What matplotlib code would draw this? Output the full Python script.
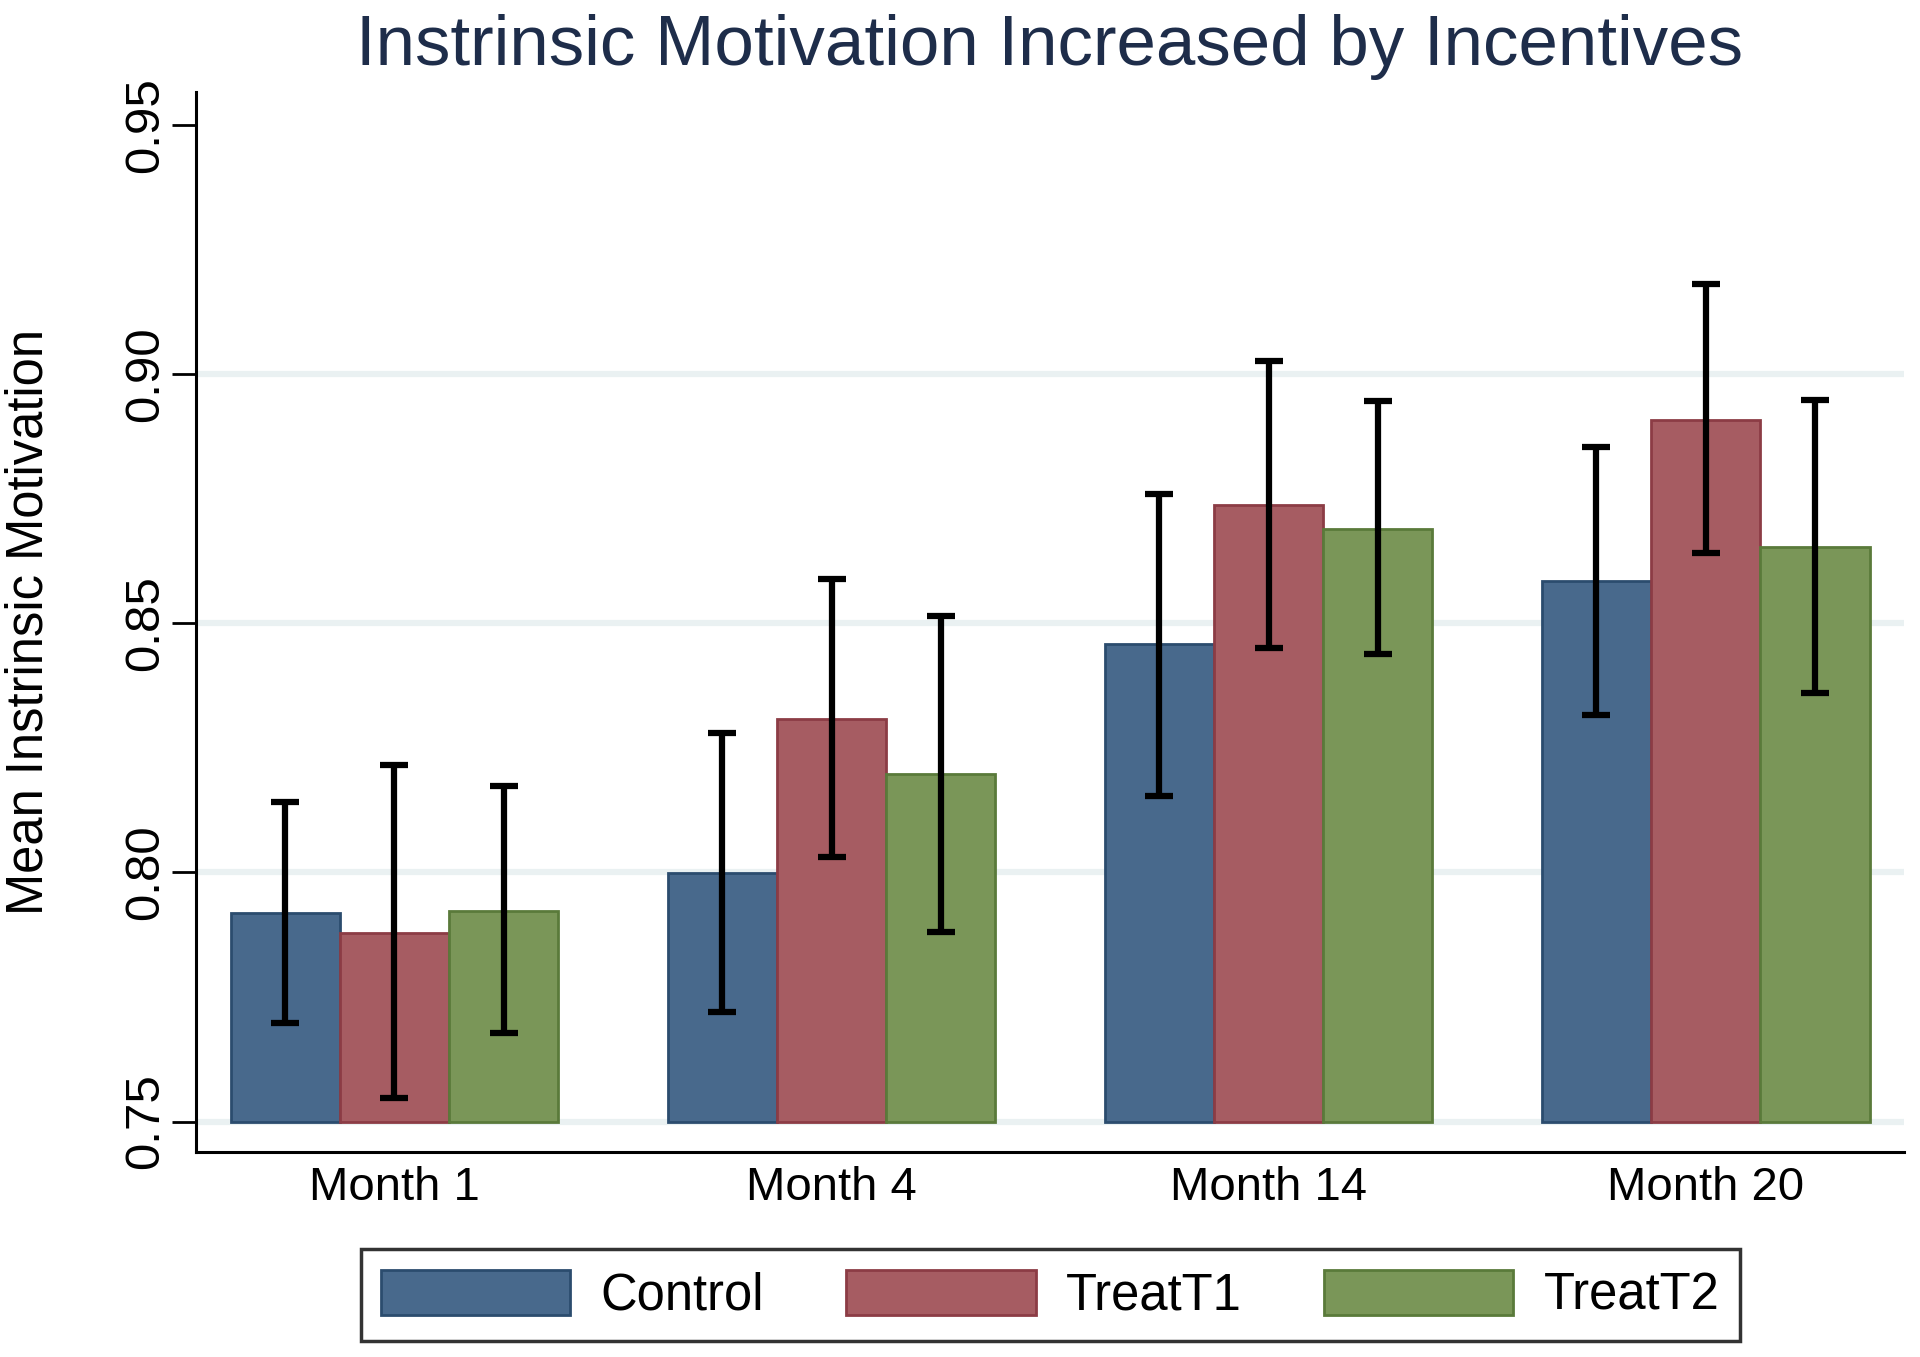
import matplotlib.pyplot as plt
import numpy as np

plt.rcParams['font.family'] = ['Liberation Sans', 'DejaVu Sans']

months = ["Month 1", "Month 4", "Month 14", "Month 20"]
groups = ["Control", "TreatT1", "TreatT2"]

means_control = [0.7918, 0.7999, 0.8458, 0.8584]
means_t1 = [0.7878, 0.8308, 0.8738, 0.8908]
means_t2 = [0.7923, 0.8198, 0.8689, 0.8652]

upper_control = [0.8141, 0.8279, 0.8760, 0.8854]
lower_control = [0.7697, 0.7719, 0.8154, 0.8316]
upper_t1 = [0.8215, 0.8588, 0.9026, 0.9181]
lower_t1 = [0.7547, 0.8031, 0.8451, 0.8640]
upper_t2 = [0.8173, 0.8515, 0.8945, 0.8947]
lower_t2 = [0.7677, 0.7881, 0.8439, 0.8360]

means = [means_control, means_t1, means_t2]
uppers = [upper_control, upper_t1, upper_t2]
lowers = [lower_control, lower_t1, lower_t2]

fills = ["#48698c", "#a65c62", "#7a9658"]
edges = ["#2b4c6e", "#8c3c45", "#5a7a3a"]

base = 0.75
width = 0.25

fig = plt.figure(figsize=(19.2, 13.57), dpi=100)
ax = fig.add_axes([0.1021, 0.1511, 0.8896, 0.7811])

x = np.arange(len(months))

# light grid lines behind the bars
for yv in [0.75, 0.80, 0.85, 0.90]:
    ax.axhline(yv, color="#eaf1f2", linewidth=4.5, zorder=0)

for i in range(3):
    pos = x + (i - 1) * width
    m = np.array(means[i])
    ax.bar(pos, m - base, width, bottom=base, color=fills[i], edgecolor=edges[i],
           linewidth=2, label=groups[i], zorder=2)
    lo = m - np.array(lowers[i])
    hi = np.array(uppers[i]) - m
    ax.errorbar(pos, m, yerr=[lo, hi], fmt="none", ecolor="black",
                elinewidth=4.5, capsize=10, capthick=4.5, zorder=3)

ax.set_xlim(-0.454, 3.454)
ax.set_ylim(0.7439, 0.9566)
ax.set_yticks([0.75, 0.80, 0.85, 0.90, 0.95])
ax.set_yticklabels(["0.75", "0.80", "0.85", "0.90", "0.95"], rotation=90, va="center")
ax.set_xticks(x)
ax.set_xticklabels(months)
ax.tick_params(axis="y", length=17, width=2, labelsize=35.5, pad=3)
ax.tick_params(axis="x", length=0, labelsize=34, pad=10)

for s in ["top", "right"]:
    ax.spines[s].set_visible(False)
for s in ["left", "bottom"]:
    ax.spines[s].set_linewidth(2.2)

ax.set_ylabel("Mean Instrinsic Motivation", fontsize=36.5)
ax.yaxis.set_label_coords(-0.0835, 0.5)

fig.suptitle("Instrinsic Motivation Increased by Incentives", fontsize=51,
             color="#1e2d4a", x=0.5466, y=0.99, va="top")

leg = fig.legend(loc="lower left", bbox_to_anchor=(0.188, 0.0118, 0.718, 0.067),
                 mode="expand", ncol=3, fontsize=36.5, fancybox=False,
                 edgecolor="black", handlelength=3.73, handleheight=1.0,
                 borderaxespad=0, handletextpad=0.6)
leg.get_frame().set_linewidth(2.5)

plt.savefig("out.png", dpi=100)
plt.close()
